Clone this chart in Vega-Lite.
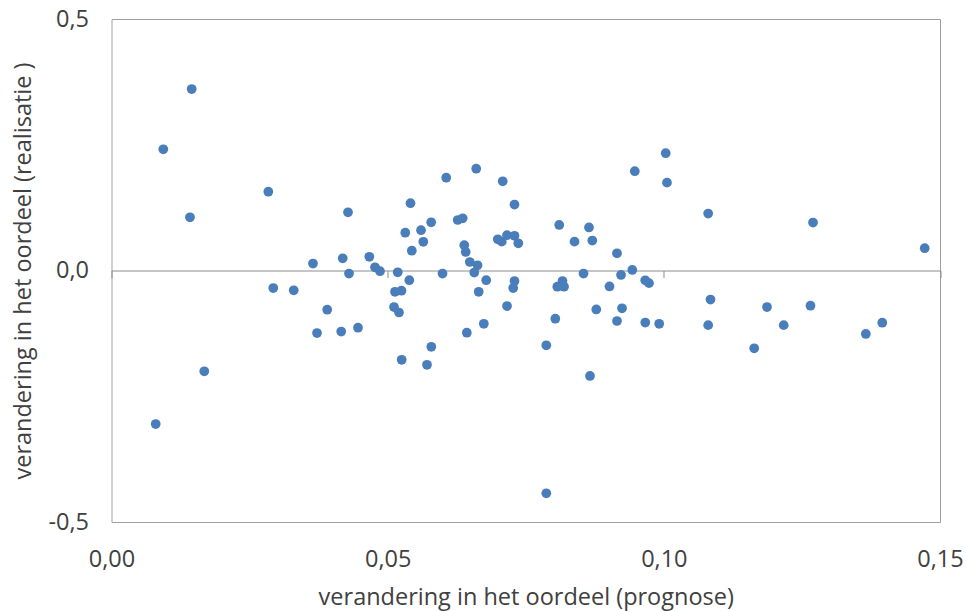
{
  "$schema": "https://vega.github.io/schema/vega-lite/v6.json",
  "autosize": "none",
  "width": 828.5,
  "height": 503,
  "padding": {"left": 111.5, "top": 19, "right": 26, "bottom": 89},
  "background": "white",
  "config": {
    "view": {"stroke": "#a0a0a0", "strokeWidth": 1},
    "font": "Open Sans",
    "axis": {"labelFont": "Open Sans", "titleFont": "Open Sans", "labelColor": "#404040", "titleColor": "#404040", "labelFontSize": 23.5, "titleFontSize": 23.5, "titleFontWeight": "normal", "grid": false}
  },
  "data": {
    "values": [
      {"x": 0.01452, "y": 0.3608}, {"x": 0.00938, "y": 0.2410}, {"x": 0.01421, "y": 0.1058}, {"x": 0.02839, "y": 0.1567},
      {"x": 0.00800, "y": -0.3052}, {"x": 0.01680, "y": -0.2004}, {"x": 0.02929, "y": -0.0348}, {"x": 0.03299, "y": -0.0394},
      {"x": 0.03648, "y": 0.0139}, {"x": 0.03721, "y": -0.1243}, {"x": 0.03905, "y": -0.0779}, {"x": 0.04159, "y": -0.1213},
      {"x": 0.04186, "y": 0.0243}, {"x": 0.04282, "y": 0.1157}, {"x": 0.04300, "y": -0.0060}, {"x": 0.04463, "y": -0.1137},
      {"x": 0.04668, "y": 0.0272}, {"x": 0.04771, "y": 0.0064}, {"x": 0.04861, "y": -0.0014}, {"x": 0.05182, "y": -0.0036},
      {"x": 0.05413, "y": 0.1338}, {"x": 0.05319, "y": 0.0751}, {"x": 0.05604, "y": 0.0801}, {"x": 0.05645, "y": 0.0571},
      {"x": 0.05437, "y": 0.0394}, {"x": 0.05788, "y": 0.0958}, {"x": 0.06060, "y": 0.1845}, {"x": 0.06603, "y": 0.2024},
      {"x": 0.06268, "y": 0.1004}, {"x": 0.06358, "y": 0.1038}, {"x": 0.06387, "y": 0.0503}, {"x": 0.06413, "y": 0.0368},
      {"x": 0.06487, "y": 0.0169}, {"x": 0.06627, "y": 0.0103}, {"x": 0.06568, "y": -0.0040}, {"x": 0.05993, "y": -0.0060},
      {"x": 0.07083, "y": 0.1773}, {"x": 0.07296, "y": 0.1312}, {"x": 0.06994, "y": 0.0620}, {"x": 0.07066, "y": 0.0573},
      {"x": 0.07161, "y": 0.0702}, {"x": 0.07296, "y": 0.0690}, {"x": 0.07365, "y": 0.0541}, {"x": 0.08106, "y": 0.0905},
      {"x": 0.08383, "y": 0.0573}, {"x": 0.08645, "y": 0.0855}, {"x": 0.08705, "y": 0.0596}, {"x": 0.08546, "y": -0.0060},
      {"x": 0.09152, "y": 0.0342}, {"x": 0.09225, "y": -0.0089}, {"x": 0.09429, "y": 0.0010}, {"x": 0.09474, "y": 0.1974},
      {"x": 0.10034, "y": 0.2332}, {"x": 0.10057, "y": 0.1746}, {"x": 0.10803, "y": 0.1133}, {"x": 0.12701, "y": 0.0954},
      {"x": 0.14723, "y": 0.0443}, {"x": 0.05392, "y": -0.0193}, {"x": 0.05133, "y": -0.0423}, {"x": 0.05250, "y": -0.0402},
      {"x": 0.05115, "y": -0.0726}, {"x": 0.05205, "y": -0.0835}, {"x": 0.05254, "y": -0.1775}, {"x": 0.05712, "y": -0.1875},
      {"x": 0.05790, "y": -0.1517}, {"x": 0.06433, "y": -0.1237}, {"x": 0.06648, "y": -0.0423}, {"x": 0.06741, "y": -0.1060},
      {"x": 0.06784, "y": -0.0193}, {"x": 0.07161, "y": -0.0706}, {"x": 0.07296, "y": -0.0209}, {"x": 0.07273, "y": -0.0348},
      {"x": 0.07872, "y": -0.1487}, {"x": 0.07872, "y": -0.4429}, {"x": 0.08035, "y": -0.0958}, {"x": 0.08071, "y": -0.0322},
      {"x": 0.08165, "y": -0.0209}, {"x": 0.08193, "y": -0.0322}, {"x": 0.08663, "y": -0.2097}, {"x": 0.08777, "y": -0.0775},
      {"x": 0.09016, "y": -0.0318}, {"x": 0.09152, "y": -0.1004}, {"x": 0.09243, "y": -0.0751}, {"x": 0.09663, "y": -0.0195},
      {"x": 0.09731, "y": -0.0252}, {"x": 0.09664, "y": -0.1034}, {"x": 0.09916, "y": -0.1060}, {"x": 0.10845, "y": -0.0577},
      {"x": 0.10803, "y": -0.1087}, {"x": 0.11636, "y": -0.1547}, {"x": 0.11868, "y": -0.0726}, {"x": 0.12170, "y": -0.1087},
      {"x": 0.12655, "y": -0.0700}, {"x": 0.13657, "y": -0.1262}, {"x": 0.13955, "y": -0.1038}
    ]
  },
  "layer": [
    {
      "mark": {"type": "point", "filled": true, "opacity": 0},
      "encoding": {
        "x": {"field": "x", "type": "quantitative", "scale": {"domain": [0, 0.15], "nice": false, "zero": false},
          "axis": {"orient": "bottom", "offset": -251.5, "values": [0, 0.05, 0.1, 0.15], "domain": true, "domainColor": "#8c8c8c", "ticks": true, "tickColor": "#8c8c8c", "tickSize": 7, "labels": false, "title": null}},
        "y": {"field": "y", "type": "quantitative", "scale": {"domain": [-0.5, 0.5], "nice": false}}
      }
    },
    {
      "mark": {"type": "point", "filled": true, "opacity": 1, "color": "#4a7ebb", "size": 95},
      "encoding": {
        "x": {"field": "x", "type": "quantitative",
          "axis": {"orient": "bottom", "values": [0, 0.05, 0.1, 0.15], "domain": false, "ticks": false, "labelPadding": 25,
            "labelExpr": "replace(format(datum.value, '.2f'), '.', ',')", "labelFlush": false,
            "title": "verandering in het oordeel (prognose)", "titlePadding": 15}},
        "y": {"field": "y", "type": "quantitative",
          "axis": {"orient": "left", "values": [-0.5, 0, 0.5], "domain": false, "ticks": false, "labelPadding": 23,
            "labelExpr": "replace(replace(format(datum.value, '.1f'), '.', ','), '\u2212', '-')", "labelFlush": false,
            "title": "verandering in het oordeel (realisatie )", "titlePadding": 12}}
      }
    }
  ],
  "resolve": {"axis": {"x": "independent"}}
}
